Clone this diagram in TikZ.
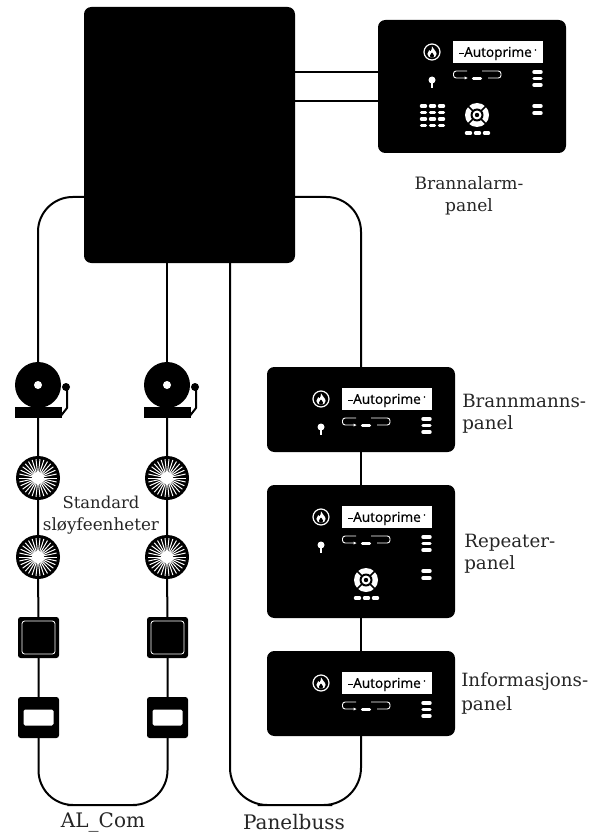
\documentclass[tikz,border=0pt]{standalone}
\usepackage{fontspec}
\setmainfont{DejaVu Serif}
\newfontfamily\logofont{Open Sans}[FakeBold=0.6]
\usetikzlibrary{backgrounds}
\newcommand{\px}[1]{#1*0.75pt}
\tikzset{
  x=0.75pt,y=-0.75pt,
  wire/.style={draw=black,line width=1.5pt},
  solidblock/.style={fill=black,inner sep=0pt,outer sep=0pt,rounded corners=5.5pt},
  mainblock/.style={solidblock,minimum width=\px{211},minimum height=\px{256}},
  panelbig/.style={solidblock,minimum width=\px{188},minimum height=\px{133}},
  panelsmall/.style={solidblock,minimum width=\px{188},minimum height=\px{85}},
  bellbody/.style={circle,fill=black,inner sep=0pt,outer sep=0pt,minimum size=\px{46}},
  burst/.style={circle,fill=black,inner sep=0pt,outer sep=0pt,minimum size=\px{44}},
  squaredev/.style={fill=black,inner sep=0pt,outer sep=0pt,rounded corners=2pt,minimum size=\px{41}},
  lab/.style={text=black!85,inner sep=0pt,anchor=base},
  labl/.style={lab,anchor=base west,font=\fontsize{13.7}{15}\selectfont},
  bar/.style={white,line width=2.6pt,line cap=round},
  pics/facebase/.style={code={
    \draw[white,line width=0.9pt] (54,32) circle (8);
    \fill[white] (54,26.3) .. controls (54.8,29.5) and (58.6,30.8) .. (58.6,34)
      .. controls (58.6,36.3) and (56.5,37.8) .. (54,37.8)
      .. controls (51.5,37.8) and (49.4,36.3) .. (49.4,34)
      .. controls (49.4,32) and (50.6,31.2) .. (51.2,30)
      .. controls (52,30.5) and (52.3,31) .. (52.5,31.5)
      .. controls (53.5,30) and (54.2,28.5) .. (54,26.3) -- cycle;
    \fill[black] (54,32.5) .. controls (55,34) and (56,34.5) .. (56,35.8)
      .. controls (56,37) and (55,37.8) .. (54,37.8)
      .. controls (53,37.8) and (52,37) .. (52,35.8)
      .. controls (52,34.5) and (53,34) .. (54,32.5) -- cycle;
    \fill[white] (75,21) rectangle (165,43);
    \node[inner sep=0pt,text=black,font=\logofont\fontsize{10.2}{12}\selectfont] (logo) at (120,33.5) {Autoprime};
    \draw[black,line width=0.4pt] (81,33.5) -- (86,33.5);
    \fill[black] (157.5,30) circle (0.9);
    \draw[white,line width=0.7pt,rounded corners=2pt] (89,51) -- (75.5,51) -- (75.5,58) -- (88,58);
    \draw[white,line width=0.7pt,rounded corners=2pt] (104,51) -- (123,51) -- (123,58) -- (110,58);
    \fill[white] (89.5,58) -- (86.5,56.5) -- (86.5,59.5) -- cycle;
    \draw[bar] (95.5,58.5) -- (102.5,58.5);
    \draw[bar] (156,52) -- (163,52);
    \draw[bar] (156,58.5) -- (163,58.5);
    \draw[bar] (156,65) -- (163,65);
  }},
  pics/facekey/.style={code={
    \fill[white] (54,60) circle (3.5);
    \fill[white] (53,60) rectangle (55,68);
  }},
  pics/facebars/.style={code={
    \draw[bar] (156,86) -- (163,86);
    \draw[bar] (156,93) -- (163,93);
  }},
  pics/facekeypad/.style={code={
    \foreach \yy in {86,92.5,99,105.5}
      \foreach \xx in {43.5,52.5,61.5}
        \draw[bar] (\xx,\yy) -- (\xx+4,\yy);
  }},
  pics/facenav/.style={code={
    \fill[white] (99,95) circle (12);
    \draw[black,line width=1.2pt] (90,86) -- (108,104);
    \draw[black,line width=1.2pt] (108,86) -- (90,104);
    \fill[black] (99,95) circle (6.5);
    \fill[white] (99,95) circle (4.5);
    \fill[black] (99,95) circle (2.2);
    \draw[bar] (88.5,113) -- (92.5,113);
    \draw[bar] (97.5,113) -- (101.5,113);
    \draw[bar] (106.5,113) -- (110.5,113);
  }},
  pics/bellparts/.style={code={
    \fill[white] (0,0) circle (4);
    \fill[black] (-23,22) rectangle (24,33);
    \fill[black] (28,2) circle (4);
    \draw[black,line width=1.5pt,line join=round] (29,2) -- (29,23) -- (22,32);
  }},
  pics/burstparts/.style={code={
    \foreach \aa in {0,12,...,348}
      \draw[white,line width=0.75pt] (\aa:5) -- (\aa:19);
    \fill[white] (0,0) circle (6);
  }},
}
\begin{document}
\begin{tikzpicture}
\useasboundingbox (0,0) rectangle (601,834);

% central unit and panels
\node[mainblock] (main) at (189.5,135) {};
\node[panelbig] (pA) at (472,86.5) {};
\node[panelsmall] (pB) at (361,409.5) {};
\node[panelbig] (pC) at (361,551.5) {};
\node[panelsmall] (pD) at (361,693.5) {};

\coordinate (tapA) at (378,72);
\coordinate (tapB) at (378,101);
\coordinate (mtapA) at (295,72);
\coordinate (mtapB) at (295,101);
\coordinate (mainLeft) at (84,197);
\coordinate (mainRight) at (295,197);
\coordinate (busLow) at (230,263);
\coordinate (busBottom) at (295,805);
\coordinate (alBottom) at (102,805);

\pic at (pA.north west) {facebase};
\pic at (pA.north west) {facekey};
\pic at (pA.north west) {facebars};
\pic at (pA.north west) {facekeypad};
\pic at (pA.north west) {facenav};
\pic at (pB.north west) {facebase};
\pic at (pB.north west) {facekey};
\pic at (pC.north west) {facebase};
\pic at (pC.north west) {facekey};
\pic at (pC.north west) {facebars};
\pic at (pC.north west) {facenav};
\pic at (pD.north west) {facebase};

% loop devices
\foreach \nm/\xx in {L/38,R/167}{
  \node[bellbody] (bell\nm) at (\xx,385) {};
  \pic at (bell\nm) {bellparts};
  \node[burst] (sa\nm) at (\xx,478) {};
  \pic at (sa\nm) {burstparts};
  \node[burst] (sb\nm) at (\xx,557) {};
  \pic at (sb\nm) {burstparts};
  \node[squaredev] (sq\nm) at (\xx+0.5,637.5) {};
  \draw[white,line width=0.6pt,rounded corners=2pt] ([shift={(-16.5,-16.5)}]sq\nm.center) rectangle ([shift={(16.5,16.5)}]sq\nm.center);
  \node[squaredev] (rc\nm) at (\xx+0.5,717.5) {};
  \fill[white,rounded corners=1.2pt] ([shift={(-15,-8)}]rc\nm.center) rectangle ([shift={(15,8)}]rc\nm.center);
}

\begin{scope}[on background layer]
  \draw[wire] (mtapA) -- (tapA);
  \draw[wire] (mtapB) -- (tapB);
  \draw[wire,rounded corners=26pt] (mainLeft) -| (bellL.center);
  \draw[wire] (bellL) -- (saL) -- (sbL) -- (sqL) -- (rcL);
  \draw[wire,rounded corners=26pt] (rcL.center) |- (alBottom) -| (rcR.center);
  \draw[wire] (rcR) -- (sqR) -- (sbR) -- (saR) -- (bellR);
  \draw[wire] (bellR) -- (bellR |- main.south);
  \draw[wire,rounded corners=26pt] (mainRight) -| (pB.north);
  \draw[wire] (pB) -- (pC) -- (pD);
  \draw[wire,rounded corners=28pt] (pD.center) |- (busBottom) -| (busLow);
\end{scope}

% labels
\node[lab,font=\fontsize{12.8}{15}\selectfont] (t1) at (469,190) {Brannalarm-};
\node[lab,font=\fontsize{12.8}{15}\selectfont] (t2) at (469,212) {panel};
\node[labl] (t3) at (462,407) {Brannmanns-};
\node[labl] (t4) at (462,429) {panel};
\node[labl] (t5) at (464,547) {Repeater-};
\node[labl] (t6) at (464,569) {panel};
\node[labl] (t7) at (461,686) {Informasjons-};
\node[labl] (t8) at (461,710) {panel};
\node[lab,font=\fontsize{12.3}{15}\selectfont] (t9) at (101,508) {Standard};
\node[lab,font=\fontsize{12.6}{15}\selectfont] (t10) at (101,530) {sløyfeenheter};
\node[lab,font=\fontsize{15}{17}\selectfont] (t11) at (103,827.5) {AL\_Com};
\node[lab,font=\fontsize{15}{17}\selectfont] (t12) at (294,829) {Panelbuss};
\end{tikzpicture}
\end{document}
